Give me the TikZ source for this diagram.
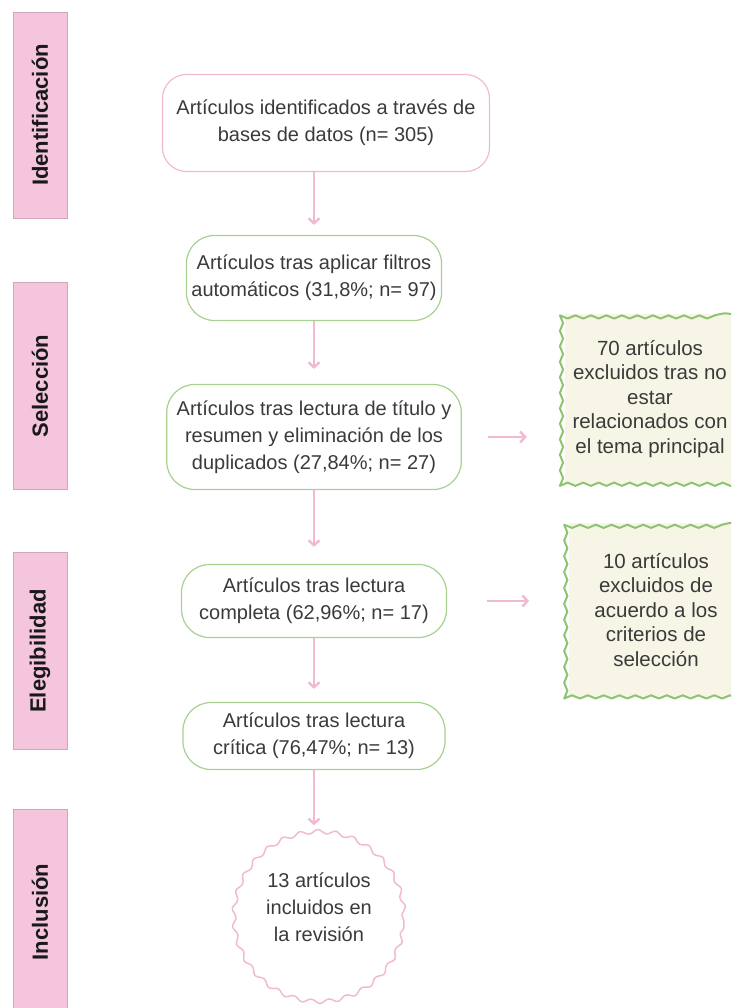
\documentclass[tikz,border=0pt]{standalone}
\usepackage{fontspec}
\setmainfont{Liberation Sans}
\usetikzlibrary{positioning, arrows.meta, decorations.pathmorphing}
\definecolor{flowpink}{HTML}{F2B9D3}
\definecolor{stagepink}{HTML}{F4C5DD}
\definecolor{boxgreen}{HTML}{A8D08F}
\definecolor{wavegreen}{HTML}{8EC370}
\definecolor{cream}{HTML}{F7F5E6}
\definecolor{ink}{HTML}{3A3A3A}

\begin{document}
\begin{tikzpicture}[x=1pt, y=-1pt,
		stage/.style={rectangle, draw=stagepink!85!black, fill=stagepink, rotate=90, minimum height=54pt, inner sep=0pt, font=\fontsize{22}{26}\selectfont\bfseries, text=black!90},
		idbox/.style={rectangle, rounded corners=24pt, draw=flowpink, line width=1.2pt, align=center, inner xsep=14pt, text=ink},
		selbox/.style={rectangle, rounded corners=28pt, draw=boxgreen, line width=1.2pt, align=center, inner xsep=5pt, text=ink},
		excl/.style={rectangle, fill=cream, align=center, inner sep=0pt, outer sep=0pt, text=ink, font=\fontsize{20.5}{24.5}\selectfont},
		wavy/.style={draw=wavegreen, line width=2pt, line join=round, decorate, decoration={snake, segment length=15.5pt, amplitude=1.6pt}},
		incl/.style={circle, draw=flowpink, line width=1.5pt, align=center, inner sep=0pt, minimum size=170pt, text=ink, decorate, decoration={snake, segment length=17.8pt, amplitude=2pt}},
		flow/.style={draw=flowpink, line width=2.4pt, -{Straight Barb[length=5pt, width=11pt]}},
		font=\fontsize{20}{27}\selectfont
		]
		
		\useasboundingbox (0,0) rectangle (731,1008);
		\clip (0,0) rectangle (731,1008);
		
		% fases
		\node[stage, minimum width=206pt] (ph1) at (40, 115) {Identificación};
		\node[stage, minimum width=207pt] (ph2) at (40, 386) {Selección};
		\node[stage, minimum width=197pt] (ph3) at (40, 651) {Elegibilidad};
		\node[stage, minimum width=206pt] (ph4) at (40, 912) {Inclusión};
		
		% flujo principal
		\node[idbox, minimum width=327pt, minimum height=97pt] (b1) at (326, 123) {Artículos identificados a través de\\bases de datos (n= 305)};
		\node[selbox, minimum width=245pt, minimum height=85pt] (b2) at (314, 278) {Artículos tras aplicar filtros\\automáticos (31,8\%; n= 97)};
		\node[selbox, minimum height=105pt, inner xsep=10pt] (b3) at (314, 437) {Artículos tras lectura de título y\\resumen y eliminación de los\\duplicados (27,84\%; n= 27)};
		\node[selbox, minimum width=265pt, minimum height=73pt] (b4) at (314, 601) {Artículos tras lectura\\completa (62,96\%; n= 17)};
		\node[selbox, minimum width=262pt, minimum height=67pt] (b5) at (314, 736) {Artículos tras lectura\\crítica (76,47\%; n= 13)};
		\node[incl] (b6) at (319, 921) {13 artículos\\incluidos en\\la revisión\\\mbox{}};
		
		\draw[flow, shorten >=10pt] (b1.south -| b2.north) to (b2.north);
		\draw[flow, shorten >=15pt] (b2.south) to (b3.north);
		\draw[flow, shorten >=17pt] (b3.south) to (b4.north);
		\draw[flow, shorten >=13pt] (b4.south) to (b5.north);
		\draw[flow, shorten >=10pt] (b5.south) to (b5.south |- b6.north);
		
		% excluidos
		\node[excl, minimum width=170.5pt, minimum height=170.5pt] (x1) at (650, 399) {70 artículos\\excluidos tras no\\estar\\relacionados con\\el tema principal};
		\node[excl, minimum width=173.8pt, minimum height=173.8pt] (x2) at (656, 610) {10 artículos\\excluidos de\\acuerdo a los\\criterios de\\selección};
		\draw[wavy] (x1.south east) -- (x1.south west) -- (x1.north west) -- (x1.north east);
		\draw[wavy, decoration={segment length=15.8pt}] (x2.south east) -- (x2.south west) -- (x2.north west) -- (x2.north east);
		
		\draw[flow, shorten <=26pt, shorten >=38pt] (b3.east) to (b3.east -| x1.west);
		\draw[flow, shorten <=40pt, shorten >=40pt] (b4.east) to (b4.east -| x2.west);
\end{tikzpicture}
\end{document}
